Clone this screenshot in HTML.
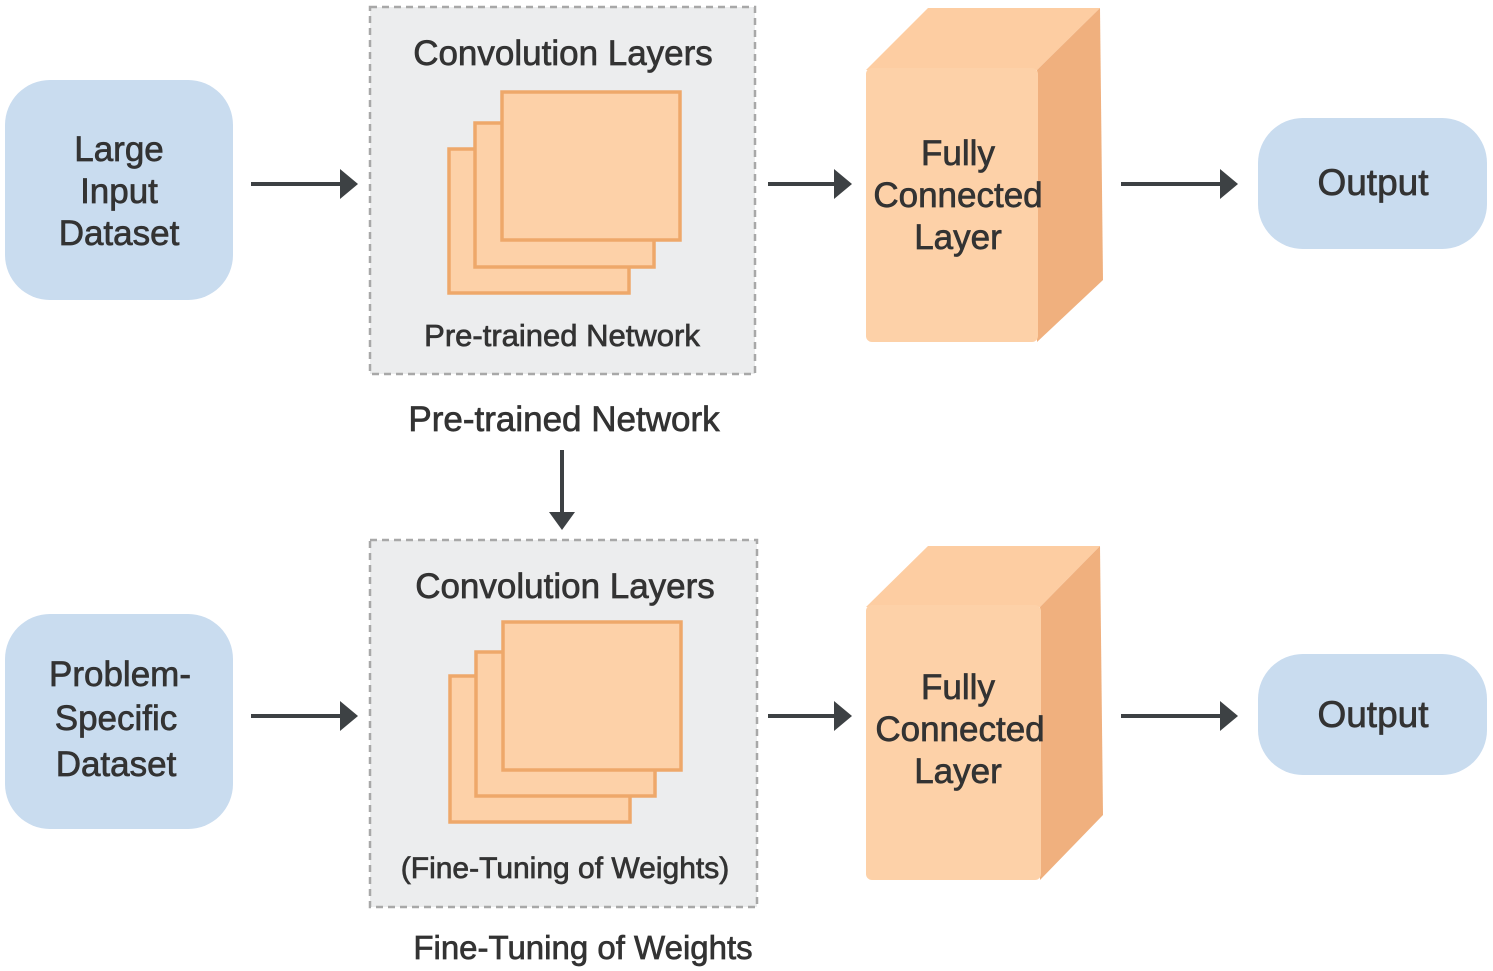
<!DOCTYPE html>
<html><head><style>body{margin:0;background:#fff}svg{display:block}text{font-family:"Liberation Sans",sans-serif;fill:#333;stroke:#333;stroke-width:0.7;text-anchor:middle}</style></head><body>
<svg width="1493" height="971" viewBox="0 0 1493 971" xmlns="http://www.w3.org/2000/svg">
<g stroke="#3d4144" stroke-width="4" fill="#3d4144">
<line x1="251" y1="184" x2="340" y2="184"/><polygon points="340,169 358,184 340,199" stroke="none"/>
<line x1="768" y1="184" x2="834" y2="184"/><polygon points="834,169 852,184 834,199" stroke="none"/>
<line x1="1121" y1="184" x2="1220" y2="184"/><polygon points="1220,169 1238,184 1220,199" stroke="none"/>
<line x1="562" y1="450" x2="562" y2="512"/><polygon points="549,512 562,530 575,512" stroke="none"/>
<line x1="251" y1="716" x2="340" y2="716"/><polygon points="340,701 358,716 340,731" stroke="none"/>
<line x1="768" y1="716" x2="834" y2="716"/><polygon points="834,701 852,716 834,731" stroke="none"/>
<line x1="1121" y1="716" x2="1220" y2="716"/><polygon points="1220,701 1238,716 1220,731" stroke="none"/>
</g>
<g fill="#c9dcef">
<rect x="5" y="80" width="228" height="220" rx="45"/>
<rect x="1258" y="118" width="229" height="131" rx="45"/>
<rect x="5" y="614" width="228" height="215" rx="45"/>
<rect x="1258" y="654" width="229" height="121" rx="45"/>
</g>
<g fill="#ecedee" stroke="#a8a8a8" stroke-width="2.5" stroke-dasharray="7,5">
<rect x="370" y="7" width="385" height="367"/>
<rect x="370" y="540" width="387" height="367"/>
</g>
<g fill="#fdd1a8" stroke="#eea86a" stroke-width="3.5">
<rect x="449" y="149" width="180" height="144"/>
<rect x="475" y="123" width="179" height="144"/>
<rect x="502" y="92" width="178" height="148"/>
<rect x="450" y="676" width="180" height="146"/>
<rect x="476" y="652" width="179" height="144"/>
<rect x="503" y="622" width="178" height="148"/>
</g>
<polygon points="866,70 928,8 1100,8 1037,70" fill="#fdcda2"/>
<polygon points="1037,70 1100,8 1103,280 1037,342" fill="#f0b07e"/>
<rect x="866" y="68" width="172" height="274" rx="6" fill="#fdd1a8"/>
<polygon points="866,607 928,546 1100,546 1040,607" fill="#fdcda2"/>
<polygon points="1040,607 1100,546 1103,815 1040,880" fill="#f0b07e"/>
<rect x="866" y="605" width="175" height="275" rx="6" fill="#fdd1a8"/>
<g font-size="35">
<text x="119" y="161">Large</text><text x="119" y="203">Input</text><text x="119" y="245">Dataset</text>
<text x="563" y="65">Convolution Layers</text>
<text x="958" y="165">Fully</text><text x="958" y="207">Connected</text><text x="958" y="249">Layer</text>
<text x="1373" y="195" font-size="37">Output</text>
<text x="564" y="431">Pre-trained Network</text>
<text x="120" y="686">Problem-</text><text x="116" y="730">Specific</text><text x="116" y="776">Dataset</text>
<text x="565" y="598">Convolution Layers</text>
<text x="958" y="699">Fully</text><text x="960" y="741">Connected</text><text x="958" y="783">Layer</text>
<text x="1373" y="727" font-size="37">Output</text>
<text x="583" y="959" font-size="33">Fine-Tuning of Weights</text>
</g>
<g font-size="31">
<text x="562" y="346">Pre-trained Network</text>
<text x="565" y="878" font-size="30">(Fine-Tuning of Weights)</text>
</g>
</svg>
</body></html>
